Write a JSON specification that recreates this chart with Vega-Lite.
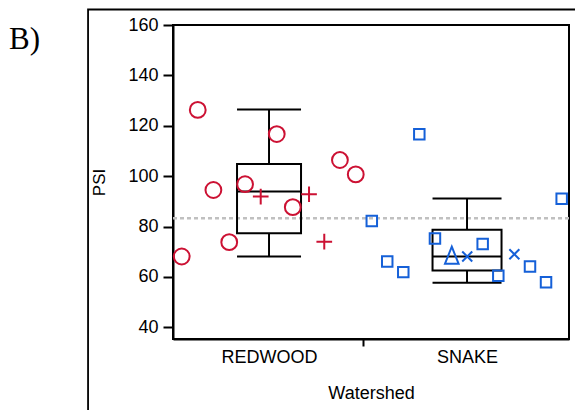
{
  "$schema": "https://vega.github.io/schema/vega-lite/v6.json",
  "width": 396,
  "height": 314,
  "autosize": {"type": "none"},
  "padding": {"left": 173, "top": 25, "right": 6, "bottom": 71},
  "background": "white",
  "title": {"text": "B)", "font": "Liberation Serif", "fontSize": 31, "fontWeight": "normal", "color": "black", "anchor": "start", "frame": "group", "orient": "none", "baseline": "alphabetic", "align": "left", "dx": -164, "dy": 24},
  "config": {"view": {"stroke": "black", "strokeWidth": 2}, "font": "Liberation Sans"},
  "datasets": {
    "points": [
      {"watershed": "REDWOOD", "x": 0.640, "PSI": 126.3, "symbol": "circle"},
      {"watershed": "REDWOOD", "x": 1.039, "PSI": 116.7, "symbol": "circle"},
      {"watershed": "REDWOOD", "x": 1.358, "PSI": 106.4, "symbol": "circle"},
      {"watershed": "REDWOOD", "x": 1.438, "PSI": 100.7, "symbol": "circle"},
      {"watershed": "REDWOOD", "x": 0.719, "PSI": 94.5, "symbol": "circle"},
      {"watershed": "REDWOOD", "x": 0.879, "PSI": 96.8, "symbol": "circle"},
      {"watershed": "REDWOOD", "x": 1.120, "PSI": 87.7, "symbol": "circle"},
      {"watershed": "REDWOOD", "x": 0.799, "PSI": 73.8, "symbol": "circle"},
      {"watershed": "REDWOOD", "x": 0.559, "PSI": 68.1, "symbol": "circle"},
      {"watershed": "REDWOOD", "x": 0.958, "PSI": 91.9, "symbol": "plus"},
      {"watershed": "REDWOOD", "x": 1.202, "PSI": 92.8, "symbol": "plus"},
      {"watershed": "REDWOOD", "x": 1.279, "PSI": 74.0, "symbol": "plus"},
      {"watershed": "SNAKE", "x": 1.759, "PSI": 116.6, "symbol": "square"},
      {"watershed": "SNAKE", "x": 2.478, "PSI": 91.0, "symbol": "square"},
      {"watershed": "SNAKE", "x": 1.519, "PSI": 82.2, "symbol": "square"},
      {"watershed": "SNAKE", "x": 1.838, "PSI": 75.2, "symbol": "square"},
      {"watershed": "SNAKE", "x": 2.079, "PSI": 73.1, "symbol": "square"},
      {"watershed": "SNAKE", "x": 1.597, "PSI": 66.1, "symbol": "square"},
      {"watershed": "SNAKE", "x": 1.678, "PSI": 61.9, "symbol": "square"},
      {"watershed": "SNAKE", "x": 2.158, "PSI": 60.5, "symbol": "square"},
      {"watershed": "SNAKE", "x": 2.318, "PSI": 64.1, "symbol": "square"},
      {"watershed": "SNAKE", "x": 2.399, "PSI": 57.9, "symbol": "square"},
      {"watershed": "SNAKE", "x": 1.923, "PSI": 68.6, "symbol": "triangle"},
      {"watershed": "SNAKE", "x": 2.001, "PSI": 68.1, "symbol": "cross"},
      {"watershed": "SNAKE", "x": 2.239, "PSI": 69.0, "symbol": "cross"}
    ],
    "boxes": [
      {"watershed": "REDWOOD", "x": 1, "min": 68.1, "q1": 77.3, "median": 93.9, "q3": 104.8, "max": 126.5},
      {"watershed": "SNAKE", "x": 2, "min": 57.7, "q1": 62.5, "median": 68.1, "q3": 78.7, "max": 91.1}
    ]
  },
  "layer": [
    {
      "data": {"values": [{}]},
      "mark": {"type": "rule", "stroke": "#c0c0c0", "strokeWidth": 2.5, "strokeDash": [4, 3]},
      "encoding": {
        "y": {"datum": 83.3, "type": "quantitative", "scale": {"domain": [35.35, 160], "nice": false, "zero": false, "padding": 0}}
      }
    },
    {
      "data": {"name": "boxes"},
      "mark": {"type": "rule", "stroke": "black", "strokeWidth": 2},
      "encoding": {
        "x": {"field": "x", "type": "quantitative", "scale": {"domain": [0.515, 2.515], "nice": false, "zero": false, "padding": 0}},
        "y": {"field": "min", "type": "quantitative", "scale": {"domain": [35.35, 160], "nice": false, "zero": false, "padding": 0}},
        "y2": {"field": "q1"}
      }
    },
    {
      "data": {"name": "boxes"},
      "mark": {"type": "rule", "stroke": "black", "strokeWidth": 2},
      "encoding": {
        "x": {"field": "x", "type": "quantitative", "scale": {"domain": [0.515, 2.515], "nice": false, "zero": false, "padding": 0}},
        "y": {"field": "q3", "type": "quantitative", "scale": {"domain": [35.35, 160], "nice": false, "zero": false, "padding": 0}},
        "y2": {"field": "max"}
      }
    },
    {
      "data": {"name": "boxes"},
      "mark": {"type": "bar", "fill": "transparent", "stroke": "black", "strokeWidth": 2, "opacity": 1},
      "encoding": {
        "x": {"field": "x", "type": "quantitative", "scale": {"domain": [0.515, 2.515], "nice": false, "zero": false, "padding": 0}},
        "y": {"field": "q1", "type": "quantitative", "scale": {"domain": [35.35, 160], "nice": false, "zero": false, "padding": 0}},
        "y2": {"field": "q3"},
        "size": {"condition": {"test": "datum.watershed === 'SNAKE'", "value": 69}, "value": 64}
      }
    },
    {
      "data": {"name": "boxes"},
      "transform": [{"fold": ["min", "median", "max"], "as": ["stat", "value"]}],
      "mark": {"type": "tick", "orient": "horizontal", "thickness": 2, "color": "black", "opacity": 1},
      "encoding": {
        "x": {"field": "x", "type": "quantitative", "scale": {"domain": [0.515, 2.515], "nice": false, "zero": false, "padding": 0}},
        "y": {"field": "value", "type": "quantitative", "scale": {"domain": [35.35, 160], "nice": false, "zero": false, "padding": 0}},
        "size": {"condition": {"test": "datum.watershed === 'SNAKE'", "value": 69}, "value": 64}
      }
    },
    {
      "data": {"name": "points"},
      "mark": {"type": "point", "filled": false, "strokeWidth": 2, "opacity": 1},
      "encoding": {
        "x": {
          "field": "x", "type": "quantitative",
          "scale": {"domain": [0.515, 2.515], "nice": false, "zero": false, "padding": 0},
          "axis": {
            "values": [1, 1.475, 2],
            "labelExpr": "datum.value == 1 ? 'REDWOOD' : datum.value == 2 ? 'SNAKE' : ''",
            "tickOpacity": {"condition": {"test": "datum.value == 1.475", "value": 1}, "value": 0},
            "tickSize": 7, "tickWidth": 2, "tickColor": "black",
            "domainColor": "black", "domainWidth": 2,
            "labelFont": "Liberation Sans", "labelFontSize": 18, "labelColor": "black", "labelPadding": 2,
            "grid": false,
            "title": "Watershed", "titleFont": "Liberation Sans", "titleFontSize": 18, "titleFontWeight": "normal", "titleColor": "black", "titlePadding": 18
          }
        },
        "y": {
          "field": "PSI", "type": "quantitative",
          "scale": {"domain": [35.35, 160], "nice": false, "zero": false, "padding": 0},
          "axis": {
            "values": [40, 60, 80, 100, 120, 140, 160],
            "tickSize": 10, "tickWidth": 2, "tickColor": "black",
            "domainColor": "black", "domainWidth": 2,
            "labelFont": "Liberation Sans", "labelFontSize": 18, "labelColor": "black", "labelPadding": 5,
            "grid": false,
            "title": "PSI", "titleFont": "Liberation Sans", "titleFontSize": 17, "titleFontWeight": "normal", "titleColor": "black", "titlePadding": 19
          }
        },
        "color": {"field": "watershed", "type": "nominal", "scale": {"domain": ["REDWOOD", "SNAKE"], "range": ["#cc1133", "#1560d8"]}, "legend": null},
        "shape": {"field": "symbol", "type": "nominal", "scale": {"domain": ["circle", "plus", "square", "triangle", "cross"], "range": ["circle", "M-1,0H1M0,-1V1", "square", "M0,-1L0.8,1L-0.8,1Z", "M-1,-1L1,1M-1,1L1,-1"]}, "legend": null},
        "size": {
          "condition": [
            {"test": "datum.symbol === 'circle'", "value": 250},
            {"test": "datum.symbol === 'plus'", "value": 246},
            {"test": "datum.symbol === 'square'", "value": 110},
            {"test": "datum.symbol === 'triangle'", "value": 289}
          ],
          "value": 100
        }
      }
    },
    {
      "data": {"values": [{}]},
      "mark": {"type": "rect", "fill": null, "fillOpacity": 0, "stroke": "black", "strokeWidth": 1.8},
      "encoding": {
        "x": {"datum": 0.086, "type": "quantitative", "scale": {"domain": [0.515, 2.515], "nice": false, "zero": false, "padding": 0}},
        "x2": {"datum": 4},
        "y": {"datum": 166.15, "type": "quantitative", "scale": {"domain": [35.35, 160], "nice": false, "zero": false, "padding": 0}},
        "y2": {"datum": 0}
      }
    }
  ]
}
